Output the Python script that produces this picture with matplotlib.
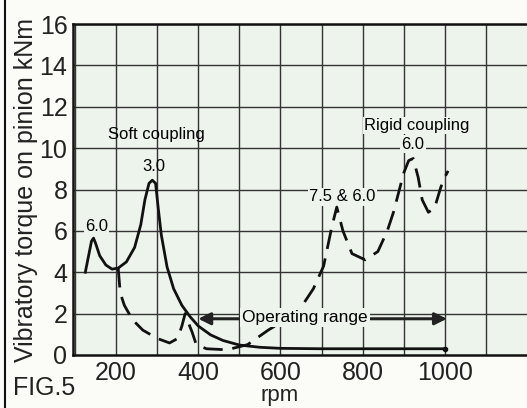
import matplotlib
matplotlib.use("Agg")
import matplotlib.pyplot as plt

plt.rcParams["font.family"] = ["Liberation Sans", "DejaVu Sans"]

# soft coupling (solid)
soft_rpm = [125, 133, 140, 145, 150, 160, 175, 190, 205, 225, 245, 260, 270, 280,
            288, 296, 303, 310, 324, 340, 360, 380, 400, 430, 460, 500, 550, 600,
            700, 800, 1000]
soft_knm = [4.0, 4.8, 5.5, 5.65, 5.4, 4.8, 4.35, 4.15, 4.2, 4.5, 5.2, 6.3, 7.5, 8.3,
            8.45, 8.3, 7.0, 5.8, 4.25, 3.2, 2.4, 1.85, 1.4, 0.97, 0.7, 0.48, 0.37, 0.32,
            0.3, 0.3, 0.3]

# rigid coupling (dashed)
rigid_rpm = [205, 210, 220, 240, 265, 300, 330, 350, 360, 368, 375, 385, 395, 420,
             470, 520, 570, 620, 650, 680, 705, 725, 737, 752, 774, 806, 837, 860,
             875, 900, 912, 923, 935, 945, 960, 975, 990, 1000, 1008]
rigid_knm = [4.2, 3.0, 2.4, 1.7, 1.2, 0.8, 0.58, 0.8, 1.4, 2.0, 1.6, 1.1, 0.5, 0.3,
             0.25, 0.5, 1.2, 1.8, 2.3, 3.2, 4.3, 6.2, 7.15, 6.0, 4.9, 4.6, 5.0, 6.0,
             6.9, 8.8, 9.4, 9.5, 8.6, 7.5, 6.9, 7.1, 8.1, 8.6, 8.9]

x_ticks = [200, 400, 600, 800, 1000]
y_ticks = [0, 2, 4, 6, 8, 10, 12, 14, 16]

my_dpi = 100
fig = plt.figure(figsize=(527 / my_dpi, 408 / my_dpi), dpi=my_dpi)
fig.patch.set_facecolor("#fbfbf8")
ax = fig.add_axes([0.1385, 0.13, 0.8615, 0.811])
ax.set_facecolor("#edf4ec")

ax.set_xlim(95, 1200)
ax.set_ylim(0, 16)

for x in range(100, 1200, 100):
    ax.axvline(x, color="#333333", lw=1.0, zorder=1)
for y in y_ticks[1:]:
    ax.axhline(y, color="#333333", lw=1.0, zorder=1)

ax.plot(soft_rpm, soft_knm, color="#111111", lw=2.0, zorder=4)
ax.plot([1000], [0.3], "o", color="#111111", ms=3, zorder=4)
ax.plot(rigid_rpm, rigid_knm, color="#111111", lw=2.0, dashes=(7, 3.5), zorder=4)

box = dict(facecolor="#edf4ec", edgecolor="none", pad=1.0)
ax.text(298, 10.65, "Soft coupling", fontsize=12, ha="center", va="center", zorder=3)
ax.text(152, 6.2, "6.0", fontsize=12, ha="center", va="center", zorder=3, bbox=box)
ax.text(292, 9.1, "3.0", fontsize=12, ha="center", va="center", zorder=3)
ax.text(750, 7.65, "7.5 & 6.0", fontsize=12, ha="center", va="center", zorder=3, bbox=box)
ax.text(932, 11.1, "Rigid coupling", fontsize=12, ha="center", va="center", zorder=3, bbox=box)
ax.text(922, 10.2, "6.0", fontsize=12, ha="center", va="center", zorder=3, bbox=box)

ax.annotate("", xy=(400, 1.75), xytext=(1005, 1.75),
            arrowprops=dict(arrowstyle="<|-|>", color="#222222", lw=2.2,
                            mutation_scale=18, shrinkA=0, shrinkB=0), zorder=3)
ax.text(660, 1.8, "Operating range", fontsize=12.5, ha="center", va="center", zorder=5,
        bbox=dict(facecolor="#edf4ec", edgecolor="none", pad=1.5))

ax.set_xticks(x_ticks)
ax.set_yticks(y_ticks)
ax.tick_params(length=0, labelsize=18, colors="#222222")
ax.tick_params(axis="y", pad=4)
ax.tick_params(axis="x", pad=4)
for s in ["left", "bottom", "top"]:
    ax.spines[s].set_linewidth(1.8)
    ax.spines[s].set_color("#111111")
ax.spines["right"].set_visible(False)

ax.set_ylabel("Vibratory torque on pinion kNm", fontsize=18, labelpad=1, color="#222222")
fig.text(0.531, 0.005, "rpm", fontsize=16, ha="center", va="bottom", color="#222222")
fig.text(0.024, 0.02, "FIG.5", fontsize=18, ha="left", va="bottom", color="#222222")
fig.add_artist(plt.Line2D([0.009, 0.009], [0, 1], color="#111111", lw=1.5))

fig.savefig("out.png", dpi=my_dpi, facecolor=fig.get_facecolor())
